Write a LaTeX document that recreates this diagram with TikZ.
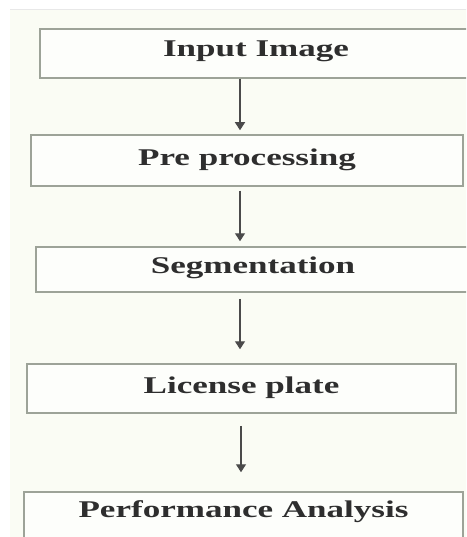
\documentclass[tikz,border=0pt]{standalone}
\usepackage{fontspec}
\setmainfont{Liberation Serif}
\usetikzlibrary{arrows.meta}
\definecolor{bgc}{HTML}{FAFCF4}
\definecolor{edgec}{HTML}{9DA398}
\definecolor{txtc}{HTML}{2E2E2E}
\definecolor{arrc}{HTML}{4A4A4A}
\newcommand{\wtext}[1]{\scalebox{1.46}[1]{#1}}
\tikzset{
  flowbox/.style={draw=edgec, line width=1.5pt, fill=white!60!bgc, rectangle, inner sep=0pt,
    text=txtc, font=\fontsize{24}{26}\selectfont\bfseries, text height=16pt},
  flowarrow/.style={draw=arrc, line width=1.3pt, -{Triangle[width=10pt,length=8pt]}}
}
\begin{document}
\begin{tikzpicture}[x=1pt,y=-1pt]
\clip (0,0) rectangle (466,537);
\fill[white] (0,0) rectangle (466,537);
\fill[bgc] (10,10) rectangle (470,540);
\draw[color=black!9, line width=1pt] (10,10) -- (470,10);
\node[flowbox, minimum width=432pt, minimum height=49pt, text depth=9pt] (b1) at (256,53.5) {\wtext{Input Image}};
\node[flowbox, minimum width=432pt, minimum height=51pt, text depth=5pt] (b2) at (247,160.5) {\wtext{Pre processing}};
\node[flowbox, minimum width=434pt, minimum height=45pt, text depth=9pt] (b3) at (253,269.5) {\wtext{Segmentation}};
\node[flowbox, minimum width=429pt, minimum height=49pt, text depth=7pt] (b4) at (241.5,388.5) {\wtext{License plate}};
\node[flowbox, minimum width=439pt, minimum height=53pt, text depth=19pt] (b5) at (243.5,518.5) {\wtext{Performance Analysis}};
\coordinate (ax) at (240,0);
\coordinate (ay) at (241,0);
\draw[flowarrow, shorten >=4pt] (b1.south -| ax) -- (b2.north -| ax);
\draw[flowarrow, shorten <=4pt, shorten >=5pt] (b2.south -| ax) -- (b3.north -| ax);
\draw[flowarrow, shorten <=6pt, shorten >=14pt] (b3.south -| ax) -- (b4.north -| ax);
\draw[flowarrow, shorten <=12pt, shorten >=19pt] (b4.south -| ay) -- (b5.north -| ay);
\end{tikzpicture}
\end{document}
